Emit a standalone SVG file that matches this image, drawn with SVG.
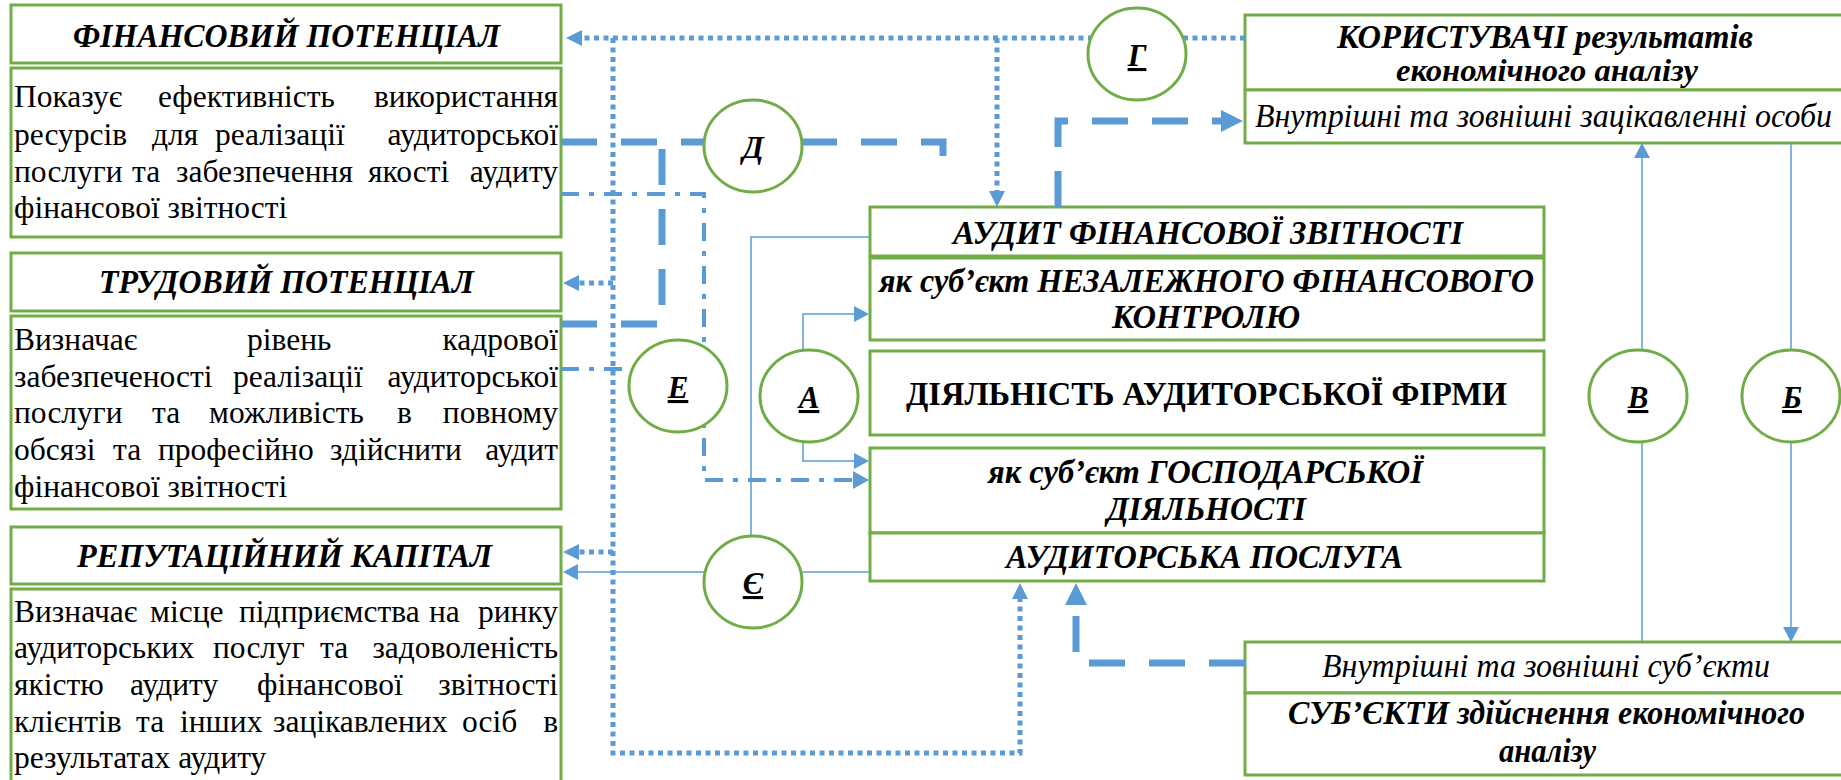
<svg xmlns="http://www.w3.org/2000/svg" width="1841" height="780" viewBox="0 0 1841 780">
<style>
.box{fill:#fff;stroke:#70AD47;stroke-width:3}
.circ{fill:#fff;stroke:#70AD47;stroke-width:3}
.t{font-family:'Liberation Serif','Times New Roman',serif;fill:#000}
.bi{font-weight:bold;font-style:italic}
.b{font-weight:bold}
.i{font-style:italic}
.hd{font-size:33px}
.tx{font-size:31.5px}
.lbl{font-family:'Liberation Serif','Times New Roman',serif;font-size:31px;font-weight:bold;font-style:italic;text-decoration:underline;text-anchor:middle}
.c{fill:none;stroke:#5B9BD5}
.dot{stroke-width:5;stroke-dasharray:5 4.5}
.dash{stroke-width:7;stroke-dasharray:36 24}
.dd{stroke-width:4;stroke-dasharray:18 10 5 10}
.thin{stroke-width:1.5}
.e{text-anchor:end}
</style>
<defs>
<marker id="ahThin" markerUnits="userSpaceOnUse" markerWidth="15" markerHeight="16" viewBox="0 0 15 16" refX="0" refY="8" orient="auto"><path d="M0,0 L15,8 L0,16 z" fill="#5B9BD5"/></marker>
<marker id="ahDot" markerUnits="userSpaceOnUse" markerWidth="16" markerHeight="16" viewBox="0 0 16 16" refX="0" refY="8" orient="auto"><path d="M0,0 L16,8 L0,16 z" fill="#5B9BD5"/></marker>
<marker id="ahDash" markerUnits="userSpaceOnUse" markerWidth="22" markerHeight="22" viewBox="0 0 22 22" refX="0" refY="11" orient="auto"><path d="M0,0 L22,11 L0,22 z" fill="#5B9BD5"/></marker>
<marker id="ahDD" markerUnits="userSpaceOnUse" markerWidth="16" markerHeight="18" viewBox="0 0 16 18" refX="0" refY="9" orient="auto"><path d="M0,0 L16,9 L0,18 z" fill="#5B9BD5"/></marker>
</defs>
<rect width="1841" height="780" fill="#fff"/>

<!-- Left column -->
<g id="fin-header">
<rect class="box" x="11" y="5" width="550" height="58"/>
<text class="t bi hd" x="73" y="47" textLength="427" lengthAdjust="spacingAndGlyphs">ФІНАНСОВИЙ ПОТЕНЦІАЛ</text>
</g>
<g id="fin-desc">
<rect class="box" x="11" y="68" width="550" height="169"/>
<g class="t tx">
<text x="14" y="107">Показує</text><text x="158" y="107">ефективність</text><text class="e" x="558" y="107">використання</text>
<text x="14" y="145">ресурсів</text><text x="152" y="145">для</text><text x="215" y="145">реалізації</text><text class="e" x="558" y="145">аудиторської</text>
<text x="14" y="182">послуги</text><text x="132" y="182">та</text><text x="176" y="182">забезпечення</text><text x="368" y="182">якості</text><text class="e" x="558" y="182">аудиту</text>
<text x="14" y="218">фінансової звітності</text>
</g>
</g>
<g id="trud-header">
<rect class="box" x="11" y="253" width="550" height="58"/>
<text class="t bi hd" x="99" y="293" textLength="375" lengthAdjust="spacingAndGlyphs">ТРУДОВИЙ ПОТЕНЦІАЛ</text>
</g>
<g id="trud-desc">
<rect class="box" x="11" y="316" width="550" height="193"/>
<g class="t tx">
<text x="14" y="350">Визначає</text><text x="247" y="350">рівень</text><text class="e" x="558" y="350">кадрової</text>
<text x="14" y="387">забезпеченості</text><text x="233" y="387">реалізації</text><text class="e" x="558" y="387">аудиторської</text>
<text x="14" y="423">послуги</text><text x="152" y="423">та</text><text x="209" y="423">можливість</text><text x="397" y="423">в</text><text class="e" x="558" y="423">повному</text>
<text x="14" y="460">обсязі</text><text x="113" y="460">та</text><text x="158" y="460">професійно</text><text x="330" y="460">здійснити</text><text class="e" x="558" y="460">аудит</text>
<text x="14" y="497">фінансової звітності</text>
</g>
</g>
<g id="rep-header">
<rect class="box" x="11" y="527" width="550" height="57"/>
<text class="t bi hd" x="77" y="567" textLength="415" lengthAdjust="spacingAndGlyphs">РЕПУТАЦІЙНИЙ КАПІТАЛ</text>
</g>
<g id="rep-desc">
<rect class="box" x="11" y="589" width="550" height="200"/>
<g class="t tx">
<text x="14" y="622">Визначає</text><text x="150" y="622">місце</text><text x="239" y="622">підприємства</text><text x="429" y="622">на</text><text class="e" x="558" y="622">ринку</text>
<text x="14" y="658">аудиторських</text><text x="213" y="658">послуг</text><text x="320" y="658">та</text><text class="e" x="558" y="658">задоволеність</text>
<text x="14" y="695">якістю</text><text x="130" y="695">аудиту</text><text x="257" y="695">фінансової</text><text class="e" x="558" y="695">звітності</text>
<text x="14" y="732">клієнтів</text><text x="136" y="732">та</text><text x="180" y="732">інших</text><text x="273" y="732">зацікавлених</text><text x="462" y="732">осіб</text><text class="e" x="558" y="732">в</text>
<text x="14" y="768">результатах аудиту</text>
</g>
</g>

<!-- Right side boxes -->
<g id="users">
<rect class="box" x="1245" y="15" width="600" height="75"/>
<rect class="box" x="1245" y="90" width="600" height="53"/>
<text class="t bi hd" x="1337" y="48" textLength="416" lengthAdjust="spacingAndGlyphs">КОРИСТУВАЧІ результатів</text>
<text class="t bi" font-size="31" x="1396" y="81" textLength="302" lengthAdjust="spacingAndGlyphs">економічного аналізу</text>
<text class="t i hd" x="1255" y="127" textLength="577" lengthAdjust="spacingAndGlyphs">Внутрішні та зовнішні зацікавленні особи</text>
</g>
<g id="audit">
<rect class="box" x="870" y="207" width="674" height="49"/>
<text class="t bi hd" x="953" y="244" textLength="510" lengthAdjust="spacingAndGlyphs">АУДИТ ФІНАНСОВОЇ ЗВІТНОСТІ</text>
</g>
<g id="independent">
<rect class="box" x="870" y="258" width="674" height="82"/>
<text class="t bi hd" x="879" y="292" textLength="655" lengthAdjust="spacingAndGlyphs">як суб’єкт НЕЗАЛЕЖНОГО ФІНАНСОВОГО</text>
<text class="t bi hd" x="1112" y="328" textLength="188" lengthAdjust="spacingAndGlyphs">КОНТРОЛЮ</text>
</g>
<g id="activity">
<rect class="box" x="870" y="351" width="674" height="84"/>
<text class="t b hd" x="906" y="405" textLength="601" lengthAdjust="spacingAndGlyphs">ДІЯЛЬНІСТЬ АУДИТОРСЬКОЇ ФІРМИ</text>
</g>
<g id="economic">
<rect class="box" x="870" y="448" width="674" height="85"/>
<text class="t bi hd" x="988" y="483" textLength="435" lengthAdjust="spacingAndGlyphs">як суб’єкт ГОСПОДАРСЬКОЇ</text>
<text class="t bi hd" x="1107" y="520" textLength="199" lengthAdjust="spacingAndGlyphs">ДІЯЛЬНОСТІ</text>
</g>
<g id="service">
<rect class="box" x="870" y="533" width="674" height="48"/>
<text class="t bi hd" x="1006" y="568" textLength="397" lengthAdjust="spacingAndGlyphs">АУДИТОРСЬКА ПОСЛУГА</text>
</g>
<g id="subjects">
<rect class="box" x="1245" y="642" width="600" height="51"/>
<rect class="box" x="1245" y="693" width="600" height="82"/>
<text class="t i hd" x="1322" y="677" textLength="448" lengthAdjust="spacingAndGlyphs">Внутрішні та зовнішні суб’єкти</text>
<text class="t bi hd" x="1288" y="724" textLength="517" lengthAdjust="spacingAndGlyphs">СУБ’ЄКТИ здійснення економічного</text>
<text class="t bi hd" x="1499" y="762" textLength="97" lengthAdjust="spacingAndGlyphs">аналізу</text>
</g>

<!-- Connectors -->
<g id="connectors">
<path class="c dot" d="M1245,38 H582" marker-end="url(#ahDot)"/>
<path class="c dot" d="M997,38 V191" marker-end="url(#ahDot)"/>
<path class="c dot" d="M613,38 V753 H1020 V599" marker-end="url(#ahDot)"/>
<path class="c dot" d="M613,283 H579" marker-end="url(#ahDot)"/>
<path class="c dot" d="M613,552 H579" marker-end="url(#ahDot)"/>
<path class="c dash" d="M561,142 H943 V180"/>
<path class="c dash" d="M561,324 H662 V142"/>
<path class="c dash" d="M1058,207 V121 H1221" marker-end="url(#ahDash)"/>
<path class="c dash" d="M1245,663 H1076 V605" marker-end="url(#ahDash)"/>
<path class="c dd" d="M561,194 H704 V480 H853" marker-end="url(#ahDD)"/>
<path class="c dd" d="M561,369 H630"/>
<path class="c thin" d="M870,237 H751 V536"/>
<path class="c thin" d="M870,572 H578" marker-end="url(#ahThin)"/>
<path class="c thin" d="M803,350 V314 H854" marker-end="url(#ahThin)"/>
<path class="c thin" d="M803,443 V461 H854" marker-end="url(#ahThin)"/>
<path class="c thin" d="M1642,642 V158" marker-end="url(#ahThin)"/>
<path class="c thin" d="M1791,143 V627" marker-end="url(#ahThin)"/>
</g>

<!-- Circle nodes -->
<g id="circle-G"><ellipse class="circ" cx="1137" cy="54" rx="49" ry="46"/><text class="lbl" x="1137" y="66">Г</text></g>
<g id="circle-D"><ellipse class="circ" cx="753" cy="146" rx="49" ry="46"/><text class="lbl" x="753" y="158">Д</text></g>
<g id="circle-E"><ellipse class="circ" cx="678" cy="386" rx="49" ry="46"/><text class="lbl" x="678" y="398">Е</text></g>
<g id="circle-A"><ellipse class="circ" cx="809" cy="396" rx="49" ry="46"/><text class="lbl" x="809" y="408">А</text></g>
<g id="circle-Ye"><ellipse class="circ" cx="753" cy="582" rx="49" ry="46"/><text class="lbl" x="753" y="594">Є</text></g>
<g id="circle-V"><ellipse class="circ" cx="1638" cy="396" rx="49" ry="46"/><text class="lbl" x="1638" y="408">В</text></g>
<g id="circle-B"><ellipse class="circ" cx="1791" cy="396" rx="49" ry="46"/><text class="lbl" x="1792" y="408">Б</text></g>
</svg>
